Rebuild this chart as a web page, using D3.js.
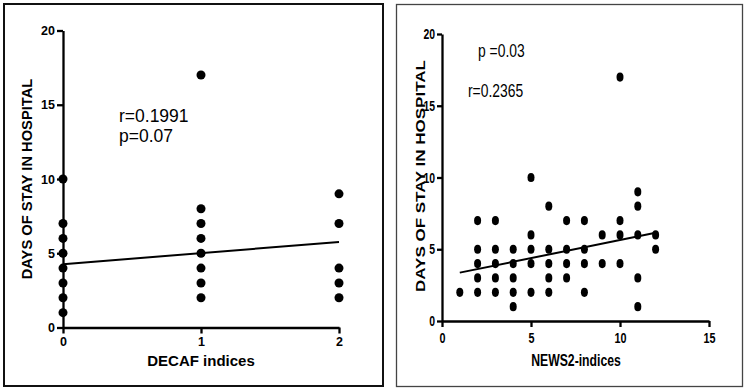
<!DOCTYPE html>
<html>
<head>
<meta charset="utf-8">
<script src="https://cdn.jsdelivr.net/npm/d3@7"></script>
<style>
  body { margin: 0; background: #fff; }
  svg { display: block; font-family: "Liberation Sans", Arial, sans-serif; }
</style>
</head>
<body>
<div id="chart"></div>
<script>
// left panel: DECAF
const decafIdx  = [0,0,0,0,0,0,0,0, 1,1,1,1,1,1,1,1, 2,2,2,2,2];
const decafDays = [1,2,3,4,5,6,7,10, 2,3,4,5,6,7,8,17, 2,3,4,7,9];
const decafFitX = [0, 2];
const decafFitY = [4.26, 5.76];
const decafXTicks = [0, 1, 2];

// right panel: NEWS2
const newsIdx  = [1, 2,2,2,2,2, 3,3,3,3,3, 4,4,4,4,4, 5,5,5,5,5, 6,6,6,6,6,
                  7,7,7,7, 8,8,8,8, 9,9, 10,10,10,10, 11,11,11,11,11, 12,12];
const newsDays = [2, 7,5,4,3,2, 7,5,4,3,2, 5,4,3,2,1, 10,6,5,4,2, 8,5,4,3,2,
                  7,5,4,3, 7,5,4,2, 6,4, 17,7,6,4, 9,8,6,3,1, 6,5];
const newsFitX = [1, 12];
const newsFitY = [3.37, 6.15];
const newsXTicks = [0, 5, 10, 15];

const yTicks = [0, 5, 10, 15, 20];

const width = 750, height = 390;
const font = "'Liberation Sans', Arial, sans-serif";
const svg = d3.select("#chart").append("svg")
    .attr("width", width)
    .attr("height", height);

// frames
svg.append("rect")
    .attr("x", 4).attr("y", 4).attr("width", 379).attr("height", 382)
    .attr("fill", "none").attr("stroke", "#111").attr("stroke-width", 2);
svg.append("rect")
    .attr("x", 396.5).attr("y", 4.5).attr("width", 346).attr("height", 382)
    .attr("fill", "none").attr("stroke", "#444").attr("stroke-width", 1.3);

function styleAxis(g, size) {
    g.attr("font-family", font);
    g.selectAll("path,line").attr("stroke", "#000").attr("stroke-width", 2.3);
    g.selectAll("text").attr("font-size", size).attr("font-weight", "bold").attr("fill", "#000");
}

// ---------- left ----------
let x1 = d3.scaleLinear().domain([0, 2]).range([63, 339]);
let y1 = d3.scaleLinear().domain([0, 20]).range([327.5, 30.5]);

let gl = svg.append("g");

gl.append("g")
    .attr("transform", `translate(0,${y1(0)})`)
    .call(d3.axisBottom(x1).tickValues(decafXTicks).tickFormat(d3.format("d")).tickSize(6).tickSizeOuter(0).tickPadding(4))
    .call(g => styleAxis(g, 12.5));

gl.append("g")
    .attr("transform", `translate(${x1(0)},0)`)
    .call(d3.axisLeft(y1).tickValues(yTicks).tickSize(6).tickSizeOuter(0).tickPadding(2))
    .call(g => styleAxis(g, 12.5));

gl.append("line")
    .attr("x1", x1(decafFitX[0])).attr("y1", y1(decafFitY[0]))
    .attr("x2", x1(decafFitX[1])).attr("y2", y1(decafFitY[1]))
    .attr("stroke", "#000").attr("stroke-width", 2);

gl.append("g").selectAll("circle")
    .data(decafIdx)
    .join("circle")
        .attr("cx", d => x1(d))
        .attr("cy", (d, i) => y1(decafDays[i]))
        .attr("r", 4.5)
        .attr("fill", "#000");

gl.append("text")
    .attr("x", 201).attr("y", 366)
    .attr("text-anchor", "middle")
    .attr("font-size", 15).attr("font-weight", "bold")
    .text("DECAF indices");

gl.append("text")
    .attr("transform", "translate(32,179) rotate(-90)")
    .attr("text-anchor", "middle")
    .attr("font-size", 14.7).attr("font-weight", "bold")
    .text("DAYS OF STAY IN HOSPITAL");

gl.append("text")
    .attr("x", 119).attr("y", 122)
    .attr("font-size", 17.5)
    .text("r=0.1991");
gl.append("text")
    .attr("x", 119).attr("y", 142)
    .attr("font-size", 17.5)
    .text("p=0.07");

// ---------- right ----------
const sx = 0.72;
let x2 = d3.scaleLinear().domain([0, 15]).range([442, 709]);
let y2 = d3.scaleLinear().domain([0, 20]).range([321, 34]);

let gr = svg.append("g");

gr.append("g")
    .attr("transform", `translate(0,${y2(0)})`)
    .call(d3.axisBottom(x2).tickValues(newsXTicks).tickSize(6).tickSizeOuter(0).tickPadding(5))
    .call(g => styleAxis(g, 15))
    .call(g => g.selectAll("text").attr("transform", `scale(${sx},1)`));

gr.append("g")
    .attr("transform", `translate(${x2(0)},0)`)
    .call(d3.axisLeft(y2).tickValues(yTicks).tickSize(5).tickSizeOuter(0))
    .call(g => styleAxis(g, 14.5))
    .call(g => g.selectAll("text").attr("x", -7 / sx).attr("transform", `scale(${sx},1)`));

gr.append("line")
    .attr("x1", x2(newsFitX[0])).attr("y1", y2(newsFitY[0]))
    .attr("x2", x2(newsFitX[1])).attr("y2", y2(newsFitY[1]))
    .attr("stroke", "#000").attr("stroke-width", 2);

gr.append("g").selectAll("ellipse")
    .data(newsIdx)
    .join("ellipse")
        .attr("cx", d => x2(d))
        .attr("cy", (d, i) => y2(newsDays[i]))
        .attr("rx", 3.5)
        .attr("ry", 4.6)
        .attr("fill", "#000");

gr.append("text")
    .attr("transform", `translate(576,366) scale(${sx},1)`)
    .attr("text-anchor", "middle")
    .attr("font-size", 17).attr("font-weight", "bold")
    .text("NEWS2-indices");

gr.append("text")
    .attr("transform", `translate(425,176) scale(${sx},1) rotate(-90)`)
    .attr("text-anchor", "middle")
    .attr("font-size", 17).attr("font-weight", "bold")
    .text("DAYS OF STAY IN HOSPITAL");

gr.append("text")
    .attr("transform", `translate(478,57) scale(0.75,1)`)
    .attr("font-size", 18.5)
    .text("p =0.03");
gr.append("text")
    .attr("transform", `translate(468,97) scale(0.75,1)`)
    .attr("font-size", 18.5)
    .text("r=0.2365");
</script>
</body>
</html>
